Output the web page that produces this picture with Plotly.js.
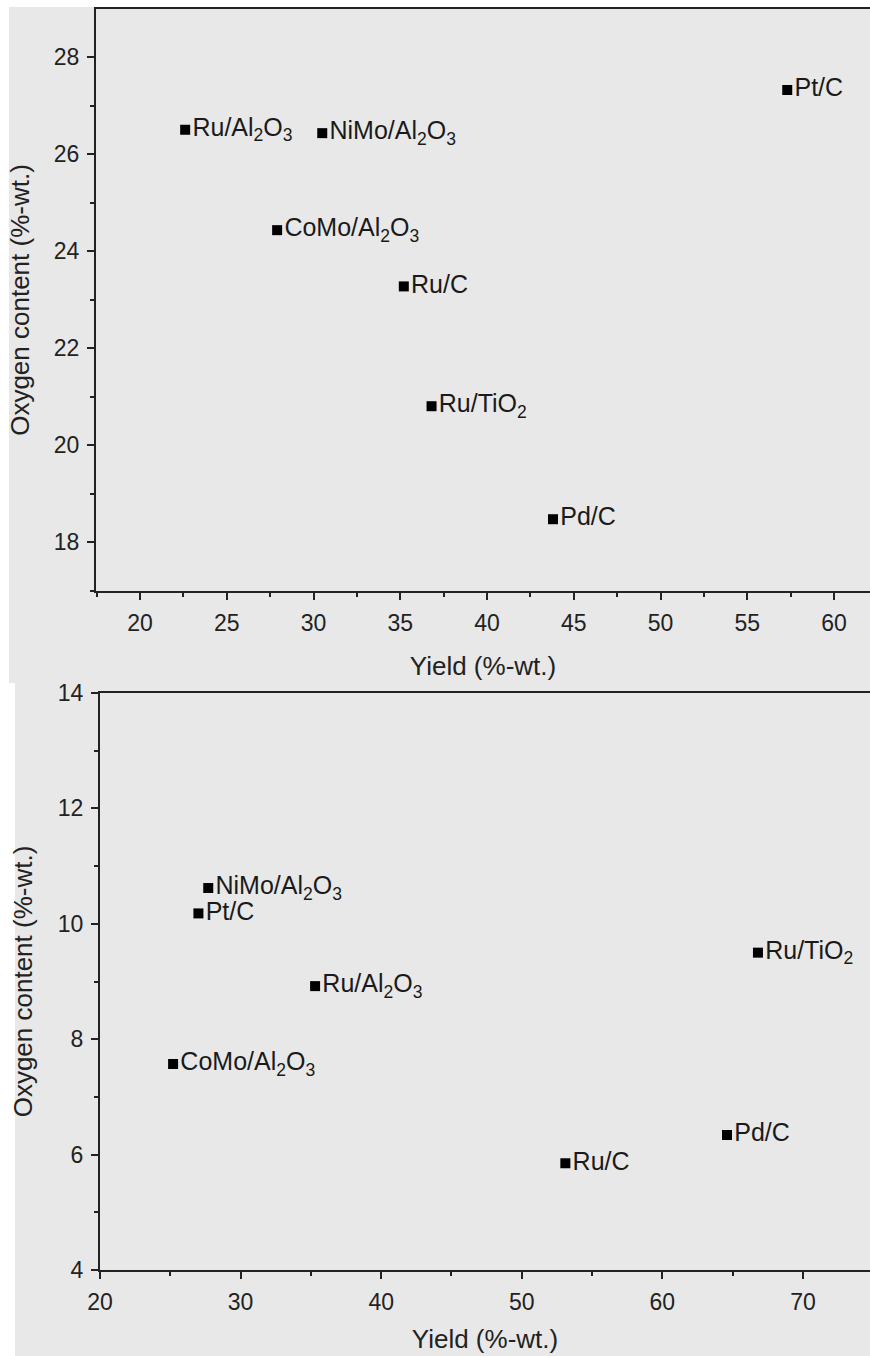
<!DOCTYPE html>
<html>
<head>
<meta charset="utf-8">
<script src="https://cdn.plot.ly/plotly-3.0.1.min.js"></script>
<style>html,body{margin:0;padding:0;background:#fff;}#chart{width:870px;height:1356px;}</style>
</head>
<body>
<div id="chart"></div>
<script>
// Top panel data
const topCatalysts = ["Pt/C", "Ru/Al<sub>2</sub>O<sub>3</sub>", "NiMo/Al<sub>2</sub>O<sub>3</sub>", "CoMo/Al<sub>2</sub>O<sub>3</sub>", "Ru/C", "Ru/TiO<sub>2</sub>", "Pd/C"];
const topYield = [57.3, 22.6, 30.5, 27.9, 35.2, 36.8, 43.8];
const topOxygen = [27.32, 26.5, 26.43, 24.43, 23.27, 20.8, 18.47];

// Bottom panel data
const botCatalysts = ["NiMo/Al<sub>2</sub>O<sub>3</sub>", "Pt/C", "Ru/Al<sub>2</sub>O<sub>3</sub>", "CoMo/Al<sub>2</sub>O<sub>3</sub>", "Ru/TiO<sub>2</sub>", "Pd/C", "Ru/C"];
const botYield = [27.7, 27.0, 35.3, 25.2, 66.8, 64.6, 53.1];
const botOxygen = [10.62, 10.18, 8.92, 7.57, 9.5, 6.34, 5.85];

const W = 870, H = 1356;
const px = v => v / W;
const py = v => 1 - v / H;

const FONT = "Liberation Sans, Arial, sans-serif";
const INK = "#222222";

const markerStyle = {symbol: "square", size: 10, color: "#000000"};
const textStyle = {family: FONT, size: 25, color: "#1a1a1a"};

const traces = [
  {x: topYield, y: topOxygen, text: topCatalysts, mode: "markers+text", textposition: "middle right",
   marker: markerStyle, textfont: textStyle, xaxis: "x", yaxis: "y", hoverinfo: "skip", cliponaxis: false},
  {x: botYield, y: botOxygen, text: botCatalysts, mode: "markers+text", textposition: "middle right",
   marker: markerStyle, textfont: textStyle, xaxis: "x2", yaxis: "y2", hoverinfo: "skip", cliponaxis: false}
];

function axisBase(extra) {
  return Object.assign({
    showline: true, linecolor: INK, linewidth: 2,
    ticks: "outside", ticklen: 7, tickwidth: 2, tickcolor: INK,
    showgrid: false, zeroline: false,
    ticklabelstandoff: 3,
    tickfont: {family: FONT, size: 23, color: INK},
    fixedrange: true
  }, extra);
}

const titleFont = {family: FONT, size: 26, color: INK};

const layout = {
  width: W, height: H,
  margin: {l: 0, r: 0, t: 0, b: 0},
  paper_bgcolor: "#ffffff",
  plot_bgcolor: "rgba(0,0,0,0)",
  showlegend: false,
  shapes: [
    {type: "rect", xref: "paper", yref: "paper", x0: px(9), x1: 1, y0: py(683), y1: py(7),
     fillcolor: "#e8e8e8", line: {width: 0}, layer: "below"},
    {type: "rect", xref: "paper", yref: "paper", x0: px(15), x1: 1, y0: 0, y1: py(683),
     fillcolor: "#e8e8e8", line: {width: 0}, layer: "below"}
  ],
  xaxis: axisBase({
    domain: [px(96), 1], anchor: "y", range: [17.46, 62.07],
    dtick: 5, tick0: 0, mirror: true,
    minor: {dtick: 2.5, tick0: 0, ticks: "outside", ticklen: 4, tickwidth: 2, tickcolor: INK},
    title: {text: "Yield (%-wt.)", font: titleFont, standoff: 22}
  }),
  yaxis: axisBase({
    domain: [py(591), py(9)], anchor: "x", range: [16.99, 28.99],
    dtick: 2, tick0: 0,
    minor: {dtick: 1, tick0: 0, ticks: "outside", ticklen: 4, tickwidth: 2, tickcolor: INK},
    title: {text: "Oxygen content (%-wt.)", font: titleFont, standoff: 17}
  }),
  xaxis2: axisBase({
    domain: [px(100), 1], anchor: "y2", range: [20, 74.77],
    dtick: 10, tick0: 0, mirror: true,
    minor: {dtick: 5, tick0: 0, ticks: "outside", ticklen: 4, tickwidth: 2, tickcolor: INK},
    title: {text: "Yield (%-wt.)", font: titleFont, standoff: 16}
  }),
  yaxis2: axisBase({
    domain: [py(1270), py(693)], anchor: "x2", range: [4, 14],
    dtick: 2, tick0: 0,
    minor: {dtick: 1, tick0: 0, ticks: "outside", ticklen: 4, tickwidth: 2, tickcolor: INK},
    title: {text: "Oxygen content (%-wt.)", font: titleFont, standoff: 18}
  })
};

Plotly.newPlot("chart", traces, layout, {displayModeBar: false, staticPlot: true});
</script>
</body>
</html>
